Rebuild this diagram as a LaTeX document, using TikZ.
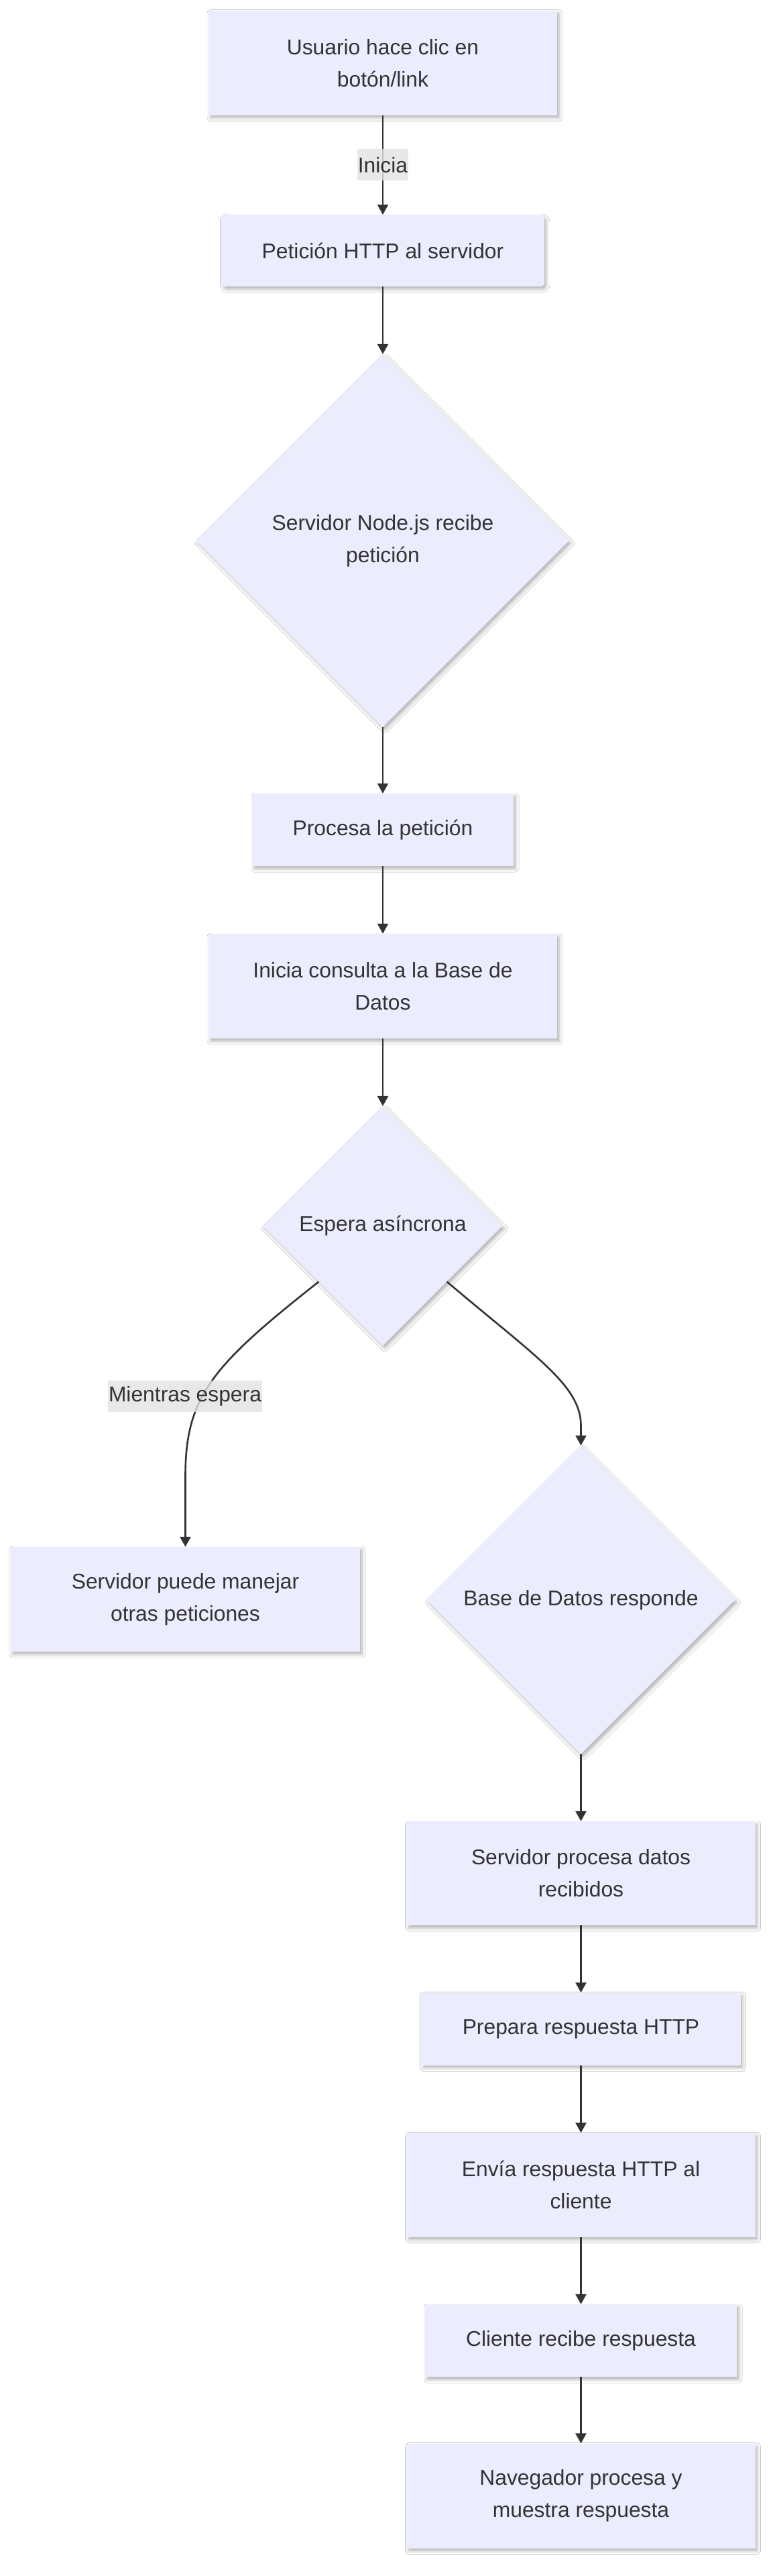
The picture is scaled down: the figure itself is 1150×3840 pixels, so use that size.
\documentclass[tikz,border=0pt]{standalone}
\usepackage{fontspec}
\setmainfont{Liberation Sans}
\usetikzlibrary{shapes.geometric,arrows.meta,shadows.blur}
\definecolor{nodefill}{HTML}{ECECFF}
\definecolor{edgecol}{HTML}{333333}
\definecolor{txtcol}{HTML}{333333}
\definecolor{lblfill}{HTML}{E3E3E3}
\begin{document}
\begin{tikzpicture}[x=1pt,y=-1pt,
  every node/.style={font=\fontsize{31.8}{48}\selectfont, text=txtcol},
  shad/.style={blur shadow={shadow xshift=3pt,shadow yshift=-4pt,shadow blur radius=5pt,shadow opacity=30}},
  proc/.style={rectangle, fill=nodefill, draw=none, inner sep=0pt, align=center, shad},
  dec/.style={diamond, aspect=1, fill=nodefill, draw=none, inner sep=0pt, align=center, shad},
  conn/.style={draw=edgecol, line width=2.6pt, -{Triangle[length=15pt,width=16pt]}},
  elabel/.style={fill=lblfill, fill opacity=0.8, text opacity=1, inner xsep=1pt, inner ysep=0pt, minimum height=47pt}
]
\fill[white] (0,0) rectangle (1150,3840);
\useasboundingbox (0,0) rectangle (1150,3840);

% nodes
\node[proc, minimum width=520pt, minimum height=156pt] (n1) at (571,93.7) {Usuario hace clic en\\botón/link};
\node[proc, rounded corners=5pt, minimum width=481.5pt, minimum height=107pt] (n2) at (571,373.7) {Petición HTTP al servidor};
\node[dec, minimum width=556pt, minimum height=556pt] (n3) at (571,806) {Servidor Node.js recibe\\petición};
\node[proc, minimum width=390pt, minimum height=108pt] (n4) at (571,1237) {Procesa la petición};
\node[proc, minimum width=520pt, minimum height=156pt] (n5) at (571,1470) {Inicia consulta a la Base de\\Datos};
\node[dec, minimum width=357pt, minimum height=357pt] (n6) at (571,1827.5) {Espera asíncrona};
\node[proc, minimum width=521pt, minimum height=156pt] (n7) at (276.5,2384) {Servidor puede manejar\\otras peticiones};
\node[dec, minimum width=460pt, minimum height=460pt] (n8) at (866.5,2385) {Base de Datos responde};
\node[proc, minimum width=520pt, minimum height=155pt] (n9) at (866.5,2792.5) {Servidor procesa datos\\recibidos};
\node[proc, minimum width=476pt, minimum height=108pt] (n10) at (866.5,3024.5) {Prepara respuesta HTTP};
\node[proc, minimum width=520pt, minimum height=155pt] (n11) at (866.5,3257) {Envía respuesta HTTP al\\cliente};
\node[proc, minimum width=465pt, minimum height=108pt] (n12) at (866.5,3489) {Cliente recibe respuesta};
\node[proc, minimum width=520pt, minimum height=156pt] (n13) at (866.5,3720.5) {Navegador procesa y\\muestra respuesta};

% connectors
\draw[conn] (n1) -- node[elabel] (lbl1) {Inicia} (n2);
\draw[conn] (n2) -- (n3);
\draw[conn] (n3) -- (n4);
\draw[conn] (n4) -- (n5);
\draw[conn] (n5) -- (n6);
\draw[conn] (n6.221) .. controls (319,2034) and (276.5,2080) .. (276.5,2200) -- (n7.north);
\node[elabel] (lbl2) at (276,2081) {Mientras espera};
\draw[conn] (n6.-41) .. controls (798,2022) and (866.5,2065) .. (866.5,2125) -- (n8.north);
\draw[conn] (n8) -- (n9);
\draw[conn] (n9) -- (n10);
\draw[conn] (n10) -- (n11);
\draw[conn] (n11) -- (n12);
\draw[conn] (n12) -- (n13);
\end{tikzpicture}
\end{document}
